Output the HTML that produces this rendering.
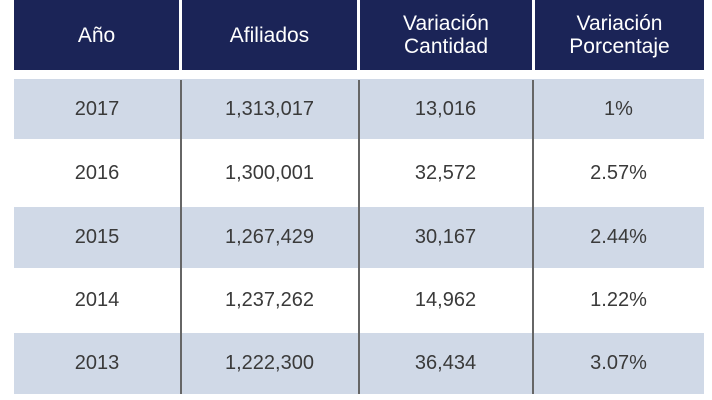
<!DOCTYPE html>
<html><head><meta charset="utf-8"><style>
body{margin:0;width:712px;height:400px;background:#fff;font-family:"Liberation Sans",sans-serif;position:relative;overflow:hidden}
.h{position:absolute;top:0;height:70px;background:#1b2457;color:#fff;font-size:21px;display:flex;align-items:center;justify-content:center;text-align:center;line-height:23px}
.r{position:absolute;left:14px;width:690px}
.blue{background:#d0d9e7}
.c{position:absolute;font-size:20px;color:#3a3a3a;display:flex;align-items:center;justify-content:center}
.v{position:absolute;top:80px;height:314px;width:2px;background:#666}
</style></head><body>
<div class="h" style="left:14px;width:165px">Año</div>
<div class="h" style="left:182px;width:175px">Afiliados</div>
<div class="h" style="left:360px;width:172px">Variación<br>Cantidad</div>
<div class="h" style="left:535px;width:169px">Variación<br>Porcentaje</div>
<div id="rows"></div>
<div class="v" style="left:180px"></div>
<div class="v" style="left:358px"></div>
<div class="v" style="left:532px"></div>
<script>
const years=["2017","2016","2015","2014","2013"];
const afiliados=["1,313,017","1,300,001","1,267,429","1,237,262","1,222,300"];
const cantidad=["13,016","32,572","30,167","14,962","36,434"];
const porcentaje=["1%","2.57%","2.44%","1.22%","3.07%"];
const tops=[79,139,207,268,333,394];
const cols=[[14,166],[181,177],[359,173],[533,171]];
const host=document.getElementById('rows');
years.forEach((y,i)=>{
  const r=document.createElement('div');
  r.className='r'+(i%2==0?' blue':'');
  r.style.top=tops[i]+'px';r.style.height=(tops[i+1]-tops[i])+'px';
  
  
  host.appendChild(r);
  [y,afiliados[i],cantidad[i],porcentaje[i]].forEach((t,j)=>{
    const c=document.createElement('div');
    c.className='c';
    c.style.left=cols[j][0]+'px';c.style.width=cols[j][1]+'px';
    c.style.top=tops[i]+'px';c.style.height=(tops[i+1]-tops[i])+'px';
    c.textContent=t;
    
    
    host.appendChild(c);
  });
});
</script>
</body></html>
